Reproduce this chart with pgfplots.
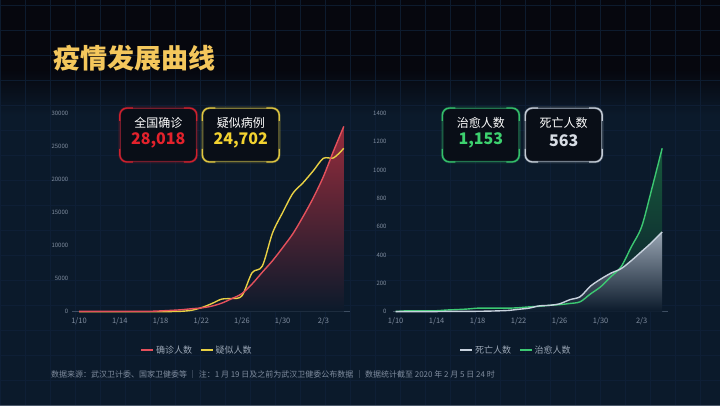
\documentclass[border=0pt]{standalone}
\usepackage{fontspec}
\setmainfont{Noto Sans CJK SC}
\usepackage{pgfplots}
\pgfplotsset{compat=1.18}
\usepackage{pgfplotstable}

\definecolor{bg}{HTML}{0B1A2B}
\definecolor{topdark}{HTML}{06070E}
\definecolor{gridc}{HTML}{10223A}
\definecolor{gold}{HTML}{F4C75C}
\definecolor{tickcol}{HTML}{7F8C9E}
\definecolor{axiscol}{HTML}{3E4E62}
\definecolor{legcol}{HTML}{9AA6B5}
\definecolor{redline}{HTML}{E4515C}
\definecolor{redfill}{HTML}{962C3C}
\definecolor{yelline}{HTML}{E8D044}
\definecolor{grnline}{HTML}{3CC872}
\definecolor{grnfill}{HTML}{175A3C}
\definecolor{whtline}{HTML}{C8D2DE}
\definecolor{whtfill}{HTML}{98A4B2}
\definecolor{boxbg}{HTML}{090E17}
\definecolor{numred}{HTML}{E4222C}
\definecolor{numyel}{HTML}{F2D230}
\definecolor{numgrn}{HTML}{3DD16F}
\definecolor{numwht}{HTML}{D8DDE5}
\definecolor{bxred}{HTML}{D0202C}
\definecolor{bxyel}{HTML}{E0C640}
\definecolor{bxgrn}{HTML}{34C06A}
\definecolor{bxwht}{HTML}{C4CCD6}

% day 0 = 1/10, day 26 = 2/5
\pgfplotstableread{
day confirmed suspected
0 41 0
1 41 0
2 41 0
3 41 0
4 41 0
5 41 0
6 45 0
7 62 0
8 121 0
9 198 20
10 291 60
11 440 200
12 571 600
13 830 1200
14 1287 1900
15 1975 2000
16 2744 2400
17 4200 5900
18 5974 6900
19 7711 11900
20 9692 15000
21 11791 17900
22 14380 19500
23 17205 21300
24 20438 23200
25 24324 23260
26 28018 24702
}\leftdata

\pgfplotstableread{
day cured deaths
0 2 1
1 6 1
2 7 1
3 7 1
4 7 1
5 12 2
6 15 2
7 19 2
8 25 3
9 25 4
10 25 6
11 25 9
12 28 17
13 34 25
14 38 41
15 45 45
16 50 56
17 58 85
18 70 106
19 125 180
20 176 230
21 247 272
22 318 304
23 459 361
24 600 425
25 870 490
26 1153 563
}\rightdata

\pgfplotsset{
  panel/.style={
    scale only axis,
    axis lines*=left,
    y axis line style={draw=none},
    x axis line style={axiscol, line width=0.8pt},
    major tick length=0pt,
    scaled y ticks=false,
    xtick={0,4,8,12,16,20,24},
    xticklabels={1/10,1/14,1/18,1/22,1/26,1/30,2/3},
    xticklabel style={font=\fontsize{7.5}{8}\selectfont, text=tickcol, anchor=north, inner sep=0pt, yshift=-6pt},
    yticklabel style={font=\fontsize{6}{6}\selectfont, text=tickcol, anchor=east, inner sep=0pt},
    /pgf/number format/assume math mode=true,
    /pgf/number format/set thousands separator={},
    legend columns=2,
    legend cell align=left,
    legend style={draw=none, fill=none, text=legcol, font=\fontsize{9}{9}\selectfont,
      /tikz/every even column/.append style={column sep=6pt}},
    legend image code/.code={\draw[##1, line width=1.6pt] (0pt,0pt) -- (12pt,0pt);},
    clip=false,
  },
}

\tikzset{
  glow/.style={draw=#1, draw opacity=0.18, line width=4pt, rounded corners=7pt,
    minimum width=76pt, minimum height=53pt, inner sep=0pt},
  statbox/.style={draw=#1!55!bg, line width=1pt, rounded corners=7pt, fill=boxbg,
    minimum width=76pt, minimum height=53pt, inner sep=0pt},
  corner/.style={draw=#1, line width=1.3pt, rounded corners=7pt},
}

\begin{document}
\begin{tikzpicture}
\begin{scope}[x=1pt,y=1pt]
  \fill[bg] (0,0) rectangle (720,405);
  \fill[topdark] (0,335) rectangle (720,405);
  \shade[top color=topdark, bottom color=bg] (0,290) rectangle (720,335.5);
  \draw[gridc, line width=0.4pt, opacity=0.75] (0,0) grid[step=25] (720,405);
  \node[anchor=west, text=gold, font=\fontsize{27}{27}\selectfont\bfseries] at (50,346.5) {疫情发展曲线};
\end{scope}

% left panel: confirmed / suspected
\begin{axis}[panel,
  at={(71.9pt,93.3pt)}, anchor=south west,
  width=278pt, height=198.4pt,
  xmin=-0.7, xmax=26.6, ymin=0, ymax=30000,
  ytick={0,5000,10000,15000,20000,25000,30000},
  yticklabel style={xshift=-3.5pt},
  legend style={at={(0.45,-0.193)}, anchor=center},
]
  \addplot[draw=none, smooth, top color=redfill, bottom color=bg, forget plot]
    table[x=day, y=confirmed] {\leftdata} \closedcycle;
  \addplot[yelline, line width=1.4pt, smooth, forget plot] table[x=day, y=suspected] {\leftdata};
  \addplot[redline, line width=1.4pt, smooth, forget plot] table[x=day, y=confirmed] {\leftdata};
  \addlegendimage{redline}
  \addlegendentry{确诊人数}
  \addlegendimage{yelline}
  \addlegendentry{疑似人数}
\end{axis}

% right panel: cured / deaths
\begin{axis}[panel,
  at={(393pt,93.3pt)}, anchor=south west,
  width=275.3pt, height=198.4pt,
  xmin=-0.26, xmax=26.6, ymin=0, ymax=1400,
  ytick={0,200,400,600,800,1000,1200,1400},
  yticklabel style={xshift=-6.3pt},
  legend style={at={(0.447,-0.193)}, anchor=center},
]
  \addplot[draw=none, smooth, top color=grnfill, bottom color=bg, forget plot]
    table[x=day, y=cured] {\rightdata} \closedcycle;
  \addplot[draw=none, smooth, top color=whtfill, bottom color=bg, forget plot]
    table[x=day, y=deaths] {\rightdata} \closedcycle;
  \addplot[grnline, line width=1.4pt, smooth, forget plot] table[x=day, y=cured] {\rightdata};
  \addplot[whtline, line width=1.4pt, smooth, forget plot] table[x=day, y=deaths] {\rightdata};
  \addlegendimage{whtline}
  \addlegendentry{死亡人数}
  \addlegendimage{grnline}
  \addlegendentry{治愈人数}
\end{axis}

\begin{scope}[x=1pt,y=1pt]
  % stat boxes
  \foreach \cx/\col/\lab/\num/\ncol in {158.3/bxred/全国确诊/{28,018}/numred,
                                        240.8/bxyel/疑似病例/{24,702}/numyel,
                                        480.8/bxgrn/治愈人数/{1,153}/numgrn,
                                        563.7/bxwht/死亡人数/563/numwht}{
    \node[glow=\col] at (\cx,270) {};
    \node[statbox=\col] (b) at (\cx,270) {};
    \draw[corner=\col] ([yshift=-13pt]b.north west) -- (b.north west) -- ([xshift=13pt]b.north west);
    \draw[corner=\col] ([xshift=-13pt]b.north east) -- (b.north east) -- ([yshift=-13pt]b.north east);
    \draw[corner=\col] ([yshift=13pt]b.south east) -- (b.south east) -- ([xshift=-13pt]b.south east);
    \draw[corner=\col] ([xshift=13pt]b.south west) -- (b.south west) -- ([yshift=13pt]b.south west);
    \node[text=white, font=\fontsize{12}{12}\selectfont] at (\cx,281.7) {\lab};
    \node[text=\ncol, font=\fontsize{16}{16}\selectfont\bfseries] at (\cx,264.3) {\num};
  }
  \node[anchor=west, text=tickcol, font=\fontsize{8}{8}\selectfont, inner sep=0pt] at (51,31)
    {数据来源：武汉卫计委、国家卫健委等 ｜ 注：1 月 19 日及之前为武汉卫健委公布数据 ｜ 数据统计截至 2020 年 2 月 5 日 24 时};
\end{scope}

\pgfresetboundingbox
\useasboundingbox (0,0) rectangle (720pt,405pt);
\end{tikzpicture}
\end{document}
